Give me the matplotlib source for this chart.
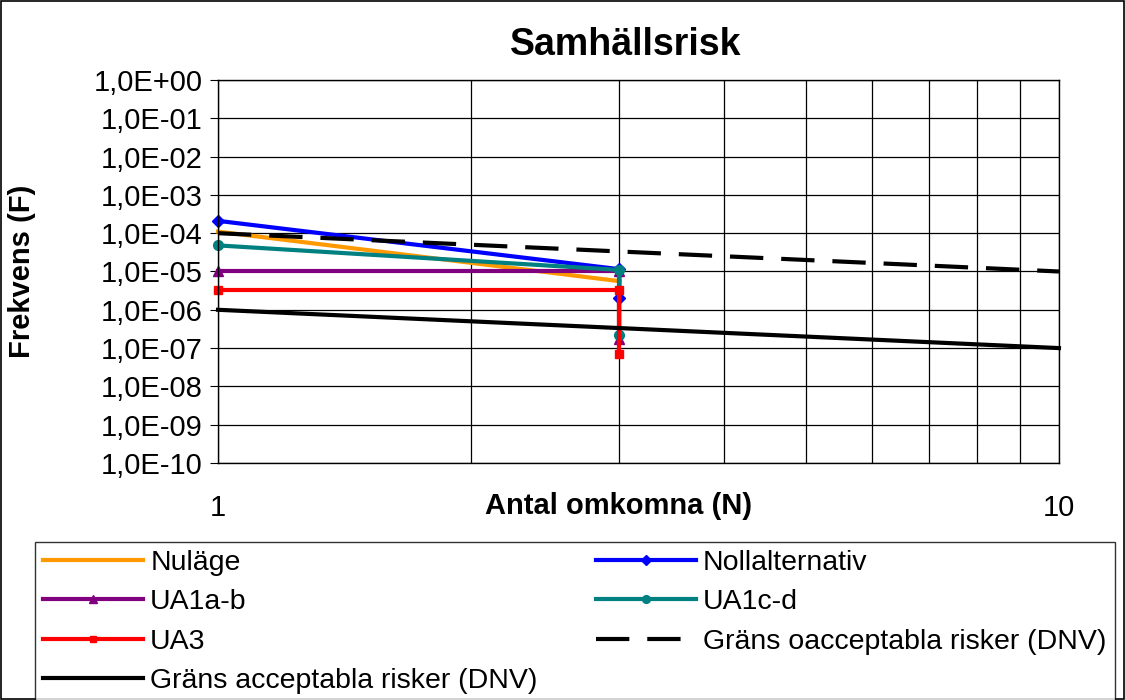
import math
import matplotlib
matplotlib.use("Agg")
import matplotlib.pyplot as plt
from matplotlib.ticker import FixedLocator, FuncFormatter, NullFormatter
from matplotlib.patches import Rectangle

plt.rcParams['font.family'] = ['Liberation Sans', 'DejaVu Sans']

# data (N, F)
nulage_n = [1, 3]
nulage_f = [1.1e-4, 5.6e-6]
noll_n = [1, 3, 3]
noll_f = [2.1e-4, 1.15e-5, 2.0e-6]
ua1ab_n = [1, 3, 3]
ua1ab_f = [1.0e-5, 1.0e-5, 1.7e-7]
ua1cd_n = [1, 3, 3]
ua1cd_f = [4.8e-5, 1.1e-5, 2.2e-7]
ua3_n = [1, 3, 3]
ua3_f = [3.3e-6, 3.3e-6, 7.0e-8]
dnv_oacc_n = [1, 10]
dnv_oacc_f = [1e-4, 1e-5]
dnv_acc_n = [1, 10]
dnv_acc_f = [1e-6, 1e-7]

y_exps = list(range(-10, 1))


def sci_label(v, pos):
    # Excel-style "1,0E-05"
    return "1,0E{:+03d}".format(int(round(math.log10(v))))


def plot_chart(filename='out.png'):
    fig = plt.figure(figsize=(11.25, 7), dpi=100)
    ax = fig.add_axes([0.1938, 0.3386, 0.7475, 0.5471])
    ax.set_xscale('log')
    ax.set_yscale('log')
    ax.set_xlim(1, 10)
    ax.set_ylim(1e-10, 1)

    # grid
    ax.xaxis.set_major_locator(FixedLocator([1, 10]))
    ax.xaxis.set_minor_locator(FixedLocator(range(2, 10)))
    ax.xaxis.set_minor_formatter(NullFormatter())
    ax.xaxis.set_major_formatter(FuncFormatter(lambda v, p: f"{v:g}"))
    ax.yaxis.set_major_locator(FixedLocator([10.0 ** e for e in y_exps]))
    ax.yaxis.set_minor_locator(FixedLocator([]))
    ax.yaxis.set_major_formatter(FuncFormatter(sci_label))
    ax.grid(True, which='both', color='black', linewidth=0.9)
    ax.set_axisbelow(True)

    lw = 3
    kw = dict(lw=lw, clip_on=False)
    ax.plot(nulage_n, nulage_f, color='#FF9900', label='Nuläge', **kw)
    ax.plot(noll_n, noll_f, color='#0000FF', marker='D', ms=6, label='Nollalternativ', **kw)
    ax.plot(ua1ab_n, ua1ab_f, color='#800080', marker='^', ms=7, label='UA1a-b', **kw)
    ax.plot(ua1cd_n, ua1cd_f, color='#008080', marker='o', ms=7, label='UA1c-d', **kw)
    ax.plot(ua3_n, ua3_f, color='#FF0000', marker='s', ms=6, label='UA3', **kw)
    ax.plot(dnv_oacc_n, dnv_oacc_f, color='black', ls=(0, (8, 4.3)),
            label='Gräns oacceptabla risker (DNV)', **kw)
    ax.plot(dnv_acc_n, dnv_acc_f, color='black',
            label='Gräns acceptabla risker (DNV)', **kw)

    ax.tick_params(axis='both', labelsize=21)
    ax.tick_params(axis='x', which='both', length=0, pad=22)
    ax.tick_params(axis='y', length=6, pad=5)
    for s in ax.spines.values():
        s.set_linewidth(1)

    ax.set_xlabel('Antal omkomna (N)', fontsize=21, fontweight='bold')
    ax.xaxis.label.set_va('center')
    ax.xaxis.set_label_coords(0.476, -0.112)
    ax.set_ylabel('Frekvens (F)', fontsize=21, fontweight='bold')
    ax.yaxis.label.set_va('center')
    ax.yaxis.set_label_coords(-0.233, 0.5)

    fig.text(0.556, 0.936, 'Samhällsrisk', fontsize=27, fontweight='bold',
             ha='center', va='center')

    # legend below, filled row-wise like the original
    h, l = ax.get_legend_handles_labels()
    order = [0, 2, 4, 6, 1, 3, 5]
    leg = fig.legend([h[i] for i in order], [l[i] for i in order],
                     loc='upper left', bbox_to_anchor=(0.031, 0.226),
                     ncol=2, fontsize=20.5, frameon=True, fancybox=False,
                     edgecolor='black', handlelength=3.5, handletextpad=0.25,
                     labelspacing=0.46, borderpad=0.3, columnspacing=2.05,
                     markerscale=0.8, borderaxespad=0)
    leg.get_frame().set_linewidth(1)

    fig.patches.append(Rectangle((0.001, 0.001), 0.998, 0.998, transform=fig.transFigure,
                                 fill=False, edgecolor='black', lw=1.2))

    fig.savefig(filename, dpi=100)


if __name__ == "__main__":
    plot_chart()
